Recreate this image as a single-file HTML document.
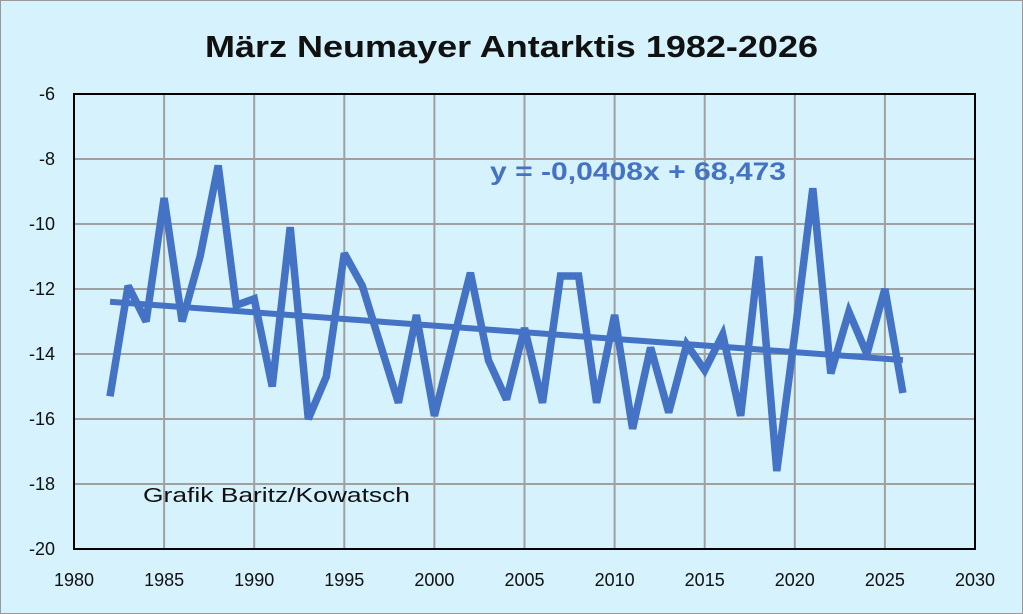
<!DOCTYPE html>
<html><head><meta charset="utf-8"><style>
html,body{margin:0;padding:0;background:#d6f2fc;}
svg{display:block;font-family:"Liberation Sans",sans-serif;}
</style></head><body>
<svg width="1023" height="614" viewBox="0 0 1023 614">
<rect x="0.5" y="0.5" width="1022" height="613" fill="#d6f2fc" stroke="#999"/>
<text x="205" y="57" textLength="613" lengthAdjust="spacingAndGlyphs" font-size="31" font-weight="bold" fill="#111">März Neumayer Antarktis 1982-2026</text>
<g id="grid"></g>
<g id="series"></g>
<rect x="74" y="94" width="901" height="455" fill="none" stroke="#000" stroke-width="2"/>
<g id="ticks"></g>
<text x="490" y="180" textLength="296" lengthAdjust="spacingAndGlyphs" font-size="25" font-weight="bold" fill="#4472c4">y = -0,0408x + 68,473</text>
<text x="143" y="502" textLength="267" lengthAdjust="spacingAndGlyphs" font-size="20" fill="#111">Grafik  Baritz/Kowatsch</text>
</svg>
<script>
const years=[1982,1983,1984,1985,1986,1987,1988,1989,1990,1991,1992,1993,1994,1995,1996,1997,1998,1999,2000,2001,2002,2003,2004,2005,2006,2007,2008,2009,2010,2011,2012,2013,2014,2015,2016,2017,2018,2019,2020,2021,2022,2023,2024,2025,2026];
const temps=[-15.3,-11.9,-13.0,-9.2,-13.0,-11.0,-8.2,-12.5,-12.3,-15.0,-10.1,-16.0,-14.7,-10.9,-11.9,-13.7,-15.5,-12.8,-15.9,-13.7,-11.5,-14.2,-15.4,-13.2,-15.5,-11.6,-11.6,-15.5,-12.8,-16.3,-13.8,-15.8,-13.7,-14.5,-13.4,-15.9,-11.0,-17.6,-13.4,-8.9,-14.6,-12.7,-14.0,-12.0,-15.2];
const xTicks=[1980,1985,1990,1995,2000,2005,2010,2015,2020,2025,2030];
const yTicks=[-6,-8,-10,-12,-14,-16,-18,-20];
const trendSlope=-0.0408, trendIntercept=68.473;
const NS='http://www.w3.org/2000/svg';
const X=v=>74+(v-1980)/50*901;
const Y=v=>94+(-6-v)/14*455;
function mk(tag,attrs,parent){const e=document.createElementNS(NS,tag);for(const k in attrs)e.setAttribute(k,attrs[k]);document.getElementById(parent).appendChild(e);return e;}
xTicks.forEach(t=>{
  const l=mk('line',{x1:X(t),x2:X(t),y1:94,y2:549,stroke:'#a0a0a0','stroke-width':2},'grid');
  
  
  const tx=mk('text',{x:X(t),y:586,'text-anchor':'middle','font-size':18,fill:'#111'},'ticks');
  tx.textContent=t;
  
  
});
yTicks.forEach(t=>{
  const l=mk('line',{x1:74,x2:975,y1:Y(t),y2:Y(t),stroke:'#a0a0a0','stroke-width':2},'grid');
  
  
  const tx=mk('text',{x:55,y:Y(t)+6,'text-anchor':'end','font-size':18,fill:'#111'},'ticks');
  tx.textContent=t;
  
  
});
const pts=years.map((y,i)=>X(y).toFixed(1)+','+Y(temps[i]).toFixed(1)).join(' ');
const pl=mk('polyline',{points:pts,fill:'none',stroke:'#4472c4','stroke-width':7.5,'stroke-linejoin':'miter','stroke-miterlimit':3},'series');


const y0=years[0],y1=years[years.length-1];
const tl=mk('line',{x1:X(y0),y1:Y(trendSlope*y0+trendIntercept),x2:X(y1),y2:Y(trendSlope*y1+trendIntercept),stroke:'#4472c4','stroke-width':6},'series');


</script>
</body></html>
